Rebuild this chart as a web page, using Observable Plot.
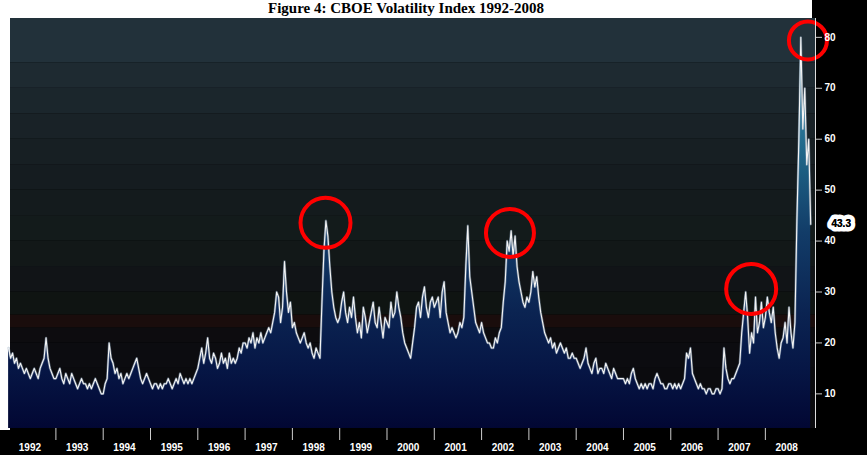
<!DOCTYPE html>
<html><head><meta charset="utf-8">
<script src="https://cdn.jsdelivr.net/npm/d3@7"></script>
<script src="https://cdn.jsdelivr.net/npm/@observablehq/plot@0.6"></script>
<style>
body{margin:0;background:#fff;}
#wrap{position:relative;width:867px;height:455px;background:#000;overflow:hidden;}
#title{position:absolute;top:0px;left:0;width:812px;text-align:center;font:bold 15px/17px "Liberation Serif",serif;color:#000;z-index:3;}
.w{position:absolute;background:#fff;z-index:0;}
#chart{position:absolute;left:0;top:0;z-index:1;}
</style></head><body>
<div id="wrap">
<div class="w" style="left:0;top:0;width:812px;height:18px"></div>
<div class="w" style="left:0;top:0;width:10px;height:430px"></div>
<div id="chart"></div>
<div id="title">Figure 4: CBOE Volatility Index 1992-2008</div>
</div>
<script>
const startYear = 1992;
const perYear = 24;
const v1992 = [19,17,18,16,17,15,16,15,14,15,14,13,14,15,14,13,15,16,17,21,17,15,14,13];
const v1993 = [13,14,15,13,12,14,13,12,14,13,12,11,12,13,12,12,11,12,11,12,13,12,11,10];
const v1994 = [10,12,13,20,17,16,14,15,13,14,12,13,14,13,14,15,16,17,15,13,12,13,14,13];
const v1995 = [12,11,12,12,11,12,11,12,12,13,12,11,12,13,12,14,13,12,13,12,13,12,13,14];
const v1996 = [15,17,19,16,18,21,17,16,18,17,15,16,18,16,17,15,18,16,17,16,17,19,18,20];
const v1997 = [20,19,21,20,22,19,21,20,22,20,21,22,23,22,24,26,30,29,24,27,36,30,26,28];
const v1998 = [23,24,22,21,20,21,22,20,19,20,18,17,19,18,17,28,38,44,41,35,30,27,25,24];
const v1999 = [25,28,30,26,24,27,25,29,25,22,24,21,27,25,22,24,26,28,24,23,27,24,21,25];
const v2000 = [24,23,28,25,26,30,27,25,22,20,19,18,17,20,23,27,28,25,29,31,27,25,28,29];
const v2001 = [27,28,29,25,30,32,26,24,22,23,22,21,22,24,23,25,35,43,33,30,27,24,23,22];
const v2002 = [24,22,21,20,20,19,19,21,20,22,23,28,32,40,38,42,37,41,35,32,30,28,27,29];
const v2003 = [28,30,34,31,33,29,26,24,22,21,20,21,19,20,18,19,20,19,18,19,17,17,18,17];
const v2004 = [17,16,15,16,17,19,16,15,14,16,17,14,15,15,14,16,15,14,13,15,14,13,13,13];
const v2005 = [13,12,13,12,14,15,13,12,11,12,11,12,11,12,12,11,13,14,13,12,12,11,11,12];
const v2006 = [12,11,12,11,12,11,12,13,18,17,19,14,13,12,11,12,11,11,10,11,11,10,10,11];
const v2007 = [11,10,11,19,15,13,12,13,13,14,15,16,22,26,30,25,18,22,20,29,22,24,28,23];
const v2008 = [25,29,26,24,27,22,19,17,20,21,24,20,27,22,19,24,44,60,80,62,70,55,60,43.3];
const yearTicks = d3.range(1992, 2009);
const yTicks = [10,20,30,40,50,60,70,80];
const lastValue = 43.3;
const circles = [{x:1998.7,y:43.6,r:25},{x:2002.6,y:41.6,r:24},{x:2007.7,y:30.6,r:25},{x:2008.9,y:79.4,r:19}];
const bandEdges = [3.2,10,15,20,23,25.5,30,35,40,45,50,55,60,65,70,75,83.7];
const bandColors = ["#0b0b0e","#0b0b0e","#0c0c10","#0d0c0f","#1a0d0c","#0f1412","#111417","#121818","#131b1b","#141b1d","#151c20","#171f23","#192227","#1b262c","#1e2a31","#22313a"];

const all = [v1992,v1993,v1994,v1995,v1996,v1997,v1998,v1999,v2000,v2001,v2002,v2003,v2004,v2005,v2006,v2007,v2008].flat();
const data = all.map((v,i)=>({x:startYear + i/perYear, y:v}));
const bands = bandColors.map((c,i)=>({y1:bandEdges[i],y2:bandEdges[i+1],c}));
const yMin = 3.2, yMax = 83.7;

const plot = Plot.plot({
  width:867, height:455,
  marginLeft:10, marginTop:18, marginRight:52, marginBottom:27,
  style:{background:"transparent"},
  x:{domain:[1992.04,2009.06], axis:null},
  y:{domain:[yMin,yMax], axis:null},
  r:{type:"identity"},
  marks:[
    Plot.rect(bands,{x1:1992.04,x2:2009.06,y1:"y1",y2:"y2",fill:"c"}),
    () => {
      const svg = d3.create("svg:defs");
      const g = svg.append("linearGradient").attr("id","vg").attr("x1",0).attr("x2",0).attr("y1",0).attr("y2",1);
      [[0,"#4a9ab8"],[0.3,"#1f6688"],[0.5,"#123c68"],[0.7,"#0b2452"],[0.85,"#061645"],[1,"#020733"]]
        .forEach(([o,c])=>g.append("stop").attr("offset",o).attr("stop-color",c));
      return svg.node();
    },
    Plot.areaY(data,{x:"x",y1:yMin,y2:"y",fill:"url(#vg)"}),
    Plot.lineY(data,{x:"x",y:"y",stroke:"#8fa8c0",strokeWidth:2.4,strokeOpacity:0.5}),
    Plot.lineY(data,{x:"x",y:"y",stroke:"#f4f4f4",strokeWidth:1.1}),
    Plot.dot(circles,{x:"x",y:"y",r:"r",stroke:"#ff0000",strokeWidth:4,fill:"none"}),
    Plot.ruleX([2009.06],{stroke:"#ddd",strokeWidth:1}),
    Plot.axisY(yTicks,{anchor:"right",tickSize:6,stroke:"#ccc",fill:"#fff",fontSize:10,fontWeight:"bold",fontFamily:"Liberation Sans, Arial",tickFormat:d=>d,label:null}),
    Plot.axisX(yearTicks.slice(1),{anchor:"bottom",tickSize:12,stroke:"#ccc",tickFormat:()=>"",label:null}),
    Plot.text(yearTicks,{x:d=>d+0.45,frameAnchor:"bottom",dy:22,text:d=>String(d),fill:"#fff",fontSize:10,fontWeight:"bold",fontFamily:"Liberation Sans, Arial"}),
    Plot.text([lastValue],{x:2009.06,y:d=>d,dx:16,text:d=>d.toFixed(1),stroke:"#fff",strokeWidth:9,fill:"#000",fontSize:10,fontWeight:"bold",fontFamily:"Liberation Sans, Arial",textAnchor:"start"}),
    Plot.text([lastValue],{x:2009.06,y:d=>d,dx:16,text:d=>d.toFixed(1),fill:"#000",fontSize:10,fontWeight:"bold",fontFamily:"Liberation Sans, Arial",textAnchor:"start"})
  ]
});
document.getElementById("chart").appendChild(plot);
</script></body></html>
